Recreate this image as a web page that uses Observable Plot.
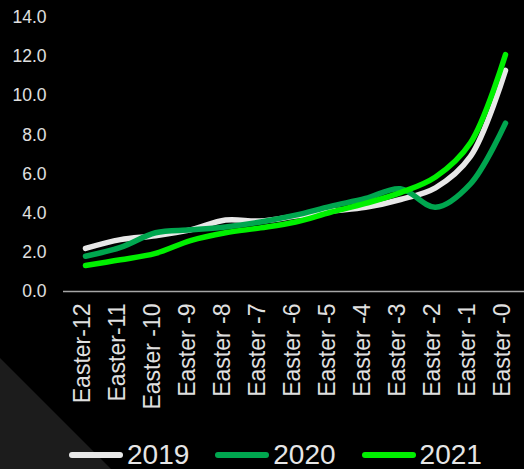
<!DOCTYPE html>
<html>
<head>
<meta charset="utf-8">
<script src="https://cdn.jsdelivr.net/npm/d3@7"></script>
<script src="https://cdn.jsdelivr.net/npm/@observablehq/plot@0.6"></script>
<style>
  html, body { margin: 0; padding: 0; background: #000; width: 524px; height: 469px; overflow: hidden; }
  body { position: relative; font-family: "Liberation Sans", Arial, sans-serif; }
  #deco { position: absolute; left: 0; top: 0; width: 524px; height: 469px; background: #1c1c1c;
          clip-path: polygon(0 358px, 111px 469px, 0 469px); }
  #chart { position: relative; }
  #legend { position: relative; height: 29px; display: flex; align-items: center; padding-left: 69px; }
  .item { display: flex; align-items: center; margin-right: 26px; }
  .sw { width: 54px; height: 6px; border-radius: 3px; margin-right: 4px; }
  .lb { color: #e6e6e6; font-size: 28px; line-height: 29px; }
</style>
</head>
<body>
<div id="deco"></div>
<div id="chart"></div>
<div id="legend"></div>
<script>
const categories = ["Easter-12","Easter-11","Easter -10","Easter -9","Easter -8","Easter -7","Easter -6","Easter -5","Easter -4","Easter -3","Easter -2","Easter -1","Easter -0"];
const values2019 = [2.2, 2.65, 2.85, 3.15, 3.65, 3.6, 3.85, 4.1, 4.3, 4.7, 5.3, 6.9, 11.3];
const values2020 = [1.8, 2.25, 3.0, 3.15, 3.3, 3.55, 3.9, 4.35, 4.75, 5.25, 4.3, 5.5, 8.6];
const values2021 = [1.33, 1.62, 1.95, 2.6, 3.0, 3.25, 3.55, 4.05, 4.5, 5.05, 5.85, 7.6, 12.1];
const seriesNames = ["2019", "2020", "2021"];
const seriesColors = ["#e8e8e8", "#00a64f", "#00f000"];
const yTicks = [0, 2, 4, 6, 8, 10, 12, 14];

const allValues = [values2019, values2020, values2021];
const data = [];
seriesNames.forEach((s, si) => {
  categories.forEach((c, i) => data.push({series: s, cat: c, value: allValues[si][i]}));
});

const chart = Plot.plot({
  width: 524,
  height: 440,
  marginTop: 17,
  marginBottom: 149,
  marginLeft: 63,
  marginRight: 0,
  style: { background: "transparent", color: "#e0e0e0", fontFamily: "Liberation Sans, Arial, sans-serif", overflow: "visible" },
  x: { type: "point", domain: categories, range: [80, 510], padding: 0 },
  y: { domain: [0, 14] },
  color: { domain: seriesNames, range: seriesColors },
  marks: [
    Plot.axisY({ ticks: yTicks, tickFormat: d => d.toFixed(1), tickSize: 0, tickPadding: 17, fontSize: 17.5, label: null }),
    Plot.axisX({ tickRotate: -90, tickSize: 0, tickPadding: 12, fontSize: 23, label: null, dx: -3 }),
    Plot.ruleY([0], { stroke: "#a6a6a6", strokeWidth: 1.5 }),
    Plot.line(data, { x: "cat", y: "value", z: "series", stroke: "series", strokeWidth: 5.5,
                      strokeLinecap: "round", strokeLinejoin: "round", curve: "catmull-rom" })
  ]
});
document.getElementById("chart").appendChild(chart);

const legend = document.getElementById("legend");
seriesNames.forEach((s, i) => {
  const it = document.createElement("div"); it.className = "item";
  const sw = document.createElement("div"); sw.className = "sw"; sw.style.background = seriesColors[i];
  const lb = document.createElement("span"); lb.className = "lb"; lb.textContent = s;
  it.appendChild(sw); it.appendChild(lb); legend.appendChild(it);
});
</script>
</body>
</html>
